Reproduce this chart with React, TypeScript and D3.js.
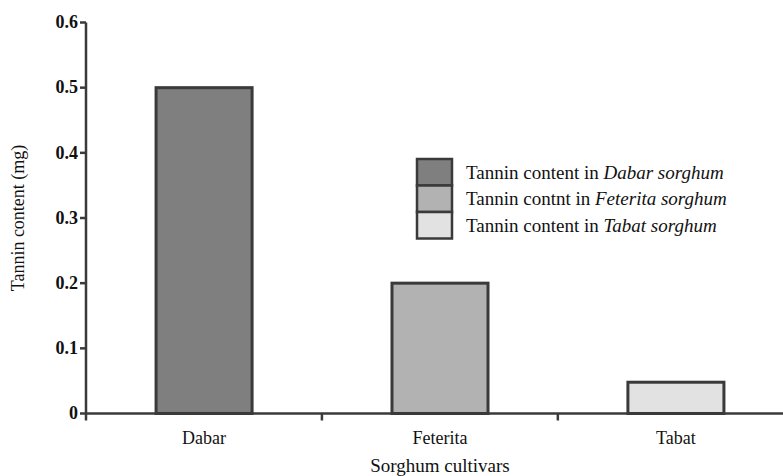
import React from "react";
import * as d3 from "d3";

const categories = ["Dabar", "Feterita", "Tabat"];
const values = [0.5, 0.2, 0.048];
const colors = ["#7f7f7f", "#b2b2b2", "#e2e2e2"];
const yTicks = [0, 0.1, 0.2, 0.3, 0.4, 0.5, 0.6];
const legendPrefix = ["Tannin content in ", "Tannin contnt in ", "Tannin content in "];
const legendItalic = ["Dabar sorghum", "Feterita sorghum", "Tabat sorghum"];

const W = 783, H = 476;
const x0 = 86, x1 = 794, yBase = 413.5, yTop = 22.5;
const stroke = "#3a3a3a";
const font = "Liberation Serif, DejaVu Serif, serif";

export default function App() {
  const x = d3.scaleBand<string>().domain(categories).range([x0, x1]).paddingInner(0.593).paddingOuter(0.297);
  const y = d3.scaleLinear().domain([0, 0.6]).range([yBase, yTop]);
  const step = x.step();
  const tickXs = [0, 1, 2, 3].map((i) => x0 + i * step);
  const txt = { fontFamily: font };
  return (
    <svg width={W} height={H} style={{ position: "absolute", left: 0, top: 0, fontFamily: font }}>
      <rect width={W} height={H} fill="#fff" />
      {categories.map((c, i) => (
        <rect key={c} x={x(c)!} y={y(values[i])} width={x.bandwidth()} height={yBase - y(values[i])}
          fill={colors[i]} stroke={stroke} strokeWidth={3} />
      ))}
      <line x1={x0} x2={x0} y1={yTop} y2={yBase} stroke={stroke} strokeWidth={2.5} />
      {yTicks.map((t) => (
        <g key={t}>
          <line x1={x0 - 6} x2={x0} y1={y(t)} y2={y(t)} stroke={stroke} strokeWidth={2.5} />
          <text x={x0 - 8} y={y(t)} dy="0.32em" textAnchor="end" fontSize={18} fontWeight="bold" fill="#111" style={txt}>
            {t === 0 ? "0" : d3.format(".1f")(t)}
          </text>
        </g>
      ))}
      <line x1={x0} x2={x1} y1={yBase} y2={yBase} stroke={stroke} strokeWidth={2.5} />
      {tickXs.map((tx, i) => (
        <line key={i} x1={tx} x2={tx} y1={yBase} y2={yBase + 7} stroke={stroke} strokeWidth={2.5} />
      ))}
      {categories.map((c) => (
        <text key={c} x={x(c)! + x.bandwidth() / 2} y={444} textAnchor="middle" fontSize={18} fill="#111" style={txt}>{c}</text>
      ))}
      <text x={440} y={472} textAnchor="middle" fontSize={19} fill="#111" style={txt}>Sorghum cultivars</text>
      <text transform={`translate(24,218) rotate(-90)`} textAnchor="middle" fontSize={18} fill="#111" style={txt}>Tannin content (mg)</text>
      {categories.map((c, i) => (
        <g key={c}>
          <rect x={417} y={159 + i * 26.5} width={35} height={26.5} fill={colors[i]} stroke={stroke} strokeWidth={2.5} />
          <text x={466} y={172 + i * 26.5} dy="0.35em" fontSize={19} fill="#111" style={txt}>
            {legendPrefix[i]}<tspan fontStyle="italic">{legendItalic[i]}</tspan>
          </text>
        </g>
      ))}
    </svg>
  );
}
